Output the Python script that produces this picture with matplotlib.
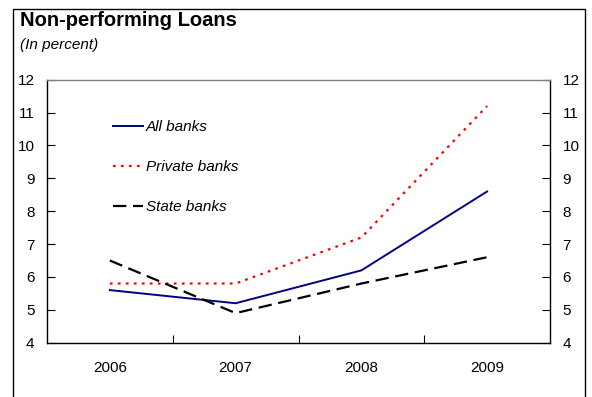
import matplotlib
matplotlib.use("Agg")
import matplotlib.pyplot as plt
from matplotlib.patches import Rectangle

plt.rcParams['font.family'] = ['Liberation Sans', 'DejaVu Sans']

years = ["2006", "2007", "2008", "2009"]
all_banks = [5.6, 5.2, 6.2, 8.6]
private_banks = [5.8, 5.8, 7.2, 11.2]
state_banks = [6.5, 4.9, 5.8, 6.6]
y_ticks = [4, 5, 6, 7, 8, 9, 10, 11, 12]

fig = plt.figure(figsize=(5.92, 3.97), dpi=100)
ax = fig.add_axes([47/592, 1 - 342.7/397, (550-47)/592, (342.7-79.7)/397])

x = list(range(len(years)))
ax.plot(x, all_banks, color='#000080', lw=1.4, label='All banks')
ax.plot(x, private_banks, color='#ff0000', lw=1.6, dashes=(1.2, 2.4), label='Private banks')
ax.plot(x, state_banks, color='black', lw=1.6, dashes=(6, 3), label='State banks')

ax.set_xlim(-0.5, 3.5)
ax.set_ylim(4, 12)
ax.set_yticks(y_ticks)
ax.set_yticklabels([str(v) for v in y_ticks])
ax.tick_params(axis='y', direction='in', left=True, right=True, labelleft=True,
               labelright=True, length=6, width=0.8, labelsize=11, pad=9)
ax.set_xticks([0.5, 1.5, 2.5])
ax.set_xticklabels([])
ax.tick_params(axis='x', direction='in', length=5.5, width=0.8)
for i, yr in enumerate(years):
    ax.text(i, -0.095, yr, transform=ax.get_xaxis_transform(), ha='center', va='center', fontsize=11)

for s in ['left', 'right', 'bottom']:
    ax.spines[s].set_color('black')
    ax.spines[s].set_linewidth(1.0)
ax.spines['top'].set_color('#808080')
ax.spines['top'].set_linewidth(1.0)

leg = ax.legend(loc='upper left', bbox_to_anchor=(0.131, 0.847), frameon=False,
                fontsize=11, handlelength=1.96, handletextpad=0.2, labelspacing=1.72,
                borderaxespad=0, borderpad=0)
for t in leg.get_texts():
    t.set_fontstyle('italic')

fig.text(20/592, 1 - 21/397, "Non-performing Loans", fontsize=14.5, fontweight='bold',
         ha='left', va='center')
fig.text(20/592, 1 - 45/397, "(In percent)", fontsize=11, fontstyle='italic',
         ha='left', va='center')

fig.patches.append(Rectangle((12.5/592, -0.05), (585-12.5)/592, 1 - 9/397 + 0.05,
                             transform=fig.transFigure, fill=False, edgecolor='black',
                             linewidth=1.0))

fig.savefig("out.png", dpi=100)
